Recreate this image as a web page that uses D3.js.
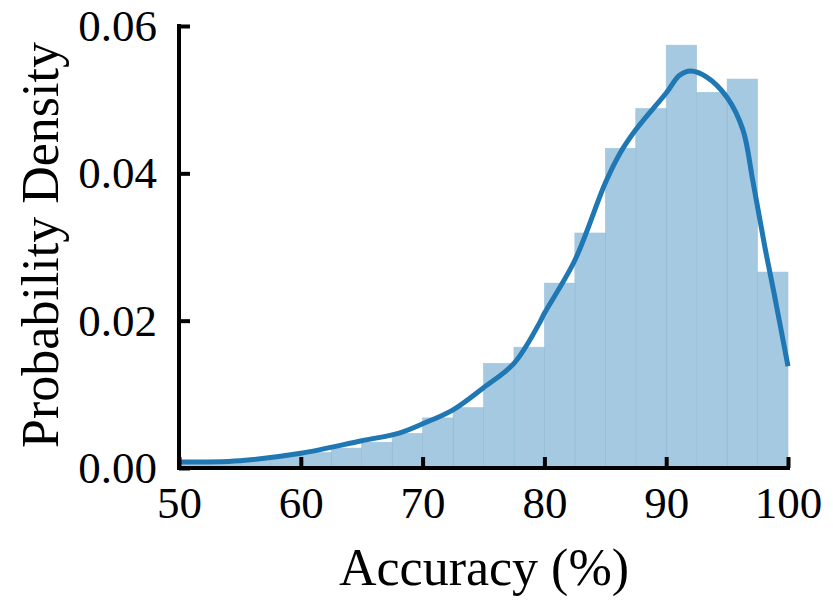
<!DOCTYPE html>
<html>
<head>
<meta charset="utf-8">
<script src="https://cdn.jsdelivr.net/npm/d3@7"></script>
<style>
  html, body { margin: 0; padding: 0; background: #fff; }
  svg { display: block; }
  text { font-family: "Liberation Serif", "DejaVu Serif", serif; fill: #000; }
</style>
</head>
<body>
<svg id="chart" width="833" height="606"></svg>
<script>
// Histogram bins (left edges, width 2.5) and densities
const binEdges = [50, 52.5, 55, 57.5, 60, 62.5, 65, 67.5, 70, 72.5, 75, 77.5, 80, 82.5, 85, 87.5, 90, 92.5, 95, 97.5];
const binDensity = [0.0007, 0.0009, 0.0012, 0.0016, 0.0021, 0.0027, 0.0035, 0.0047, 0.0068, 0.0082, 0.0142, 0.0164, 0.0251, 0.0319, 0.0434, 0.0488, 0.0574, 0.0510, 0.0528, 0.0266];
const binWidth = 2.5;

// KDE curve points
const kdeX = [50, 55, 60, 65, 68, 70, 72.5, 75, 77.5, 79.6, 80, 82.5, 85, 86.2, 87.5, 90, 91.1, 92, 93.3, 95, 96.3, 97.1, 98.1, 98.8, 100];
const kdeY = [0.0008, 0.0010, 0.0020, 0.0037, 0.0047, 0.0060, 0.0079, 0.0109, 0.0142, 0.0197, 0.0210, 0.0282, 0.0387, 0.0427, 0.0459, 0.0509, 0.0533, 0.0539, 0.0531, 0.0503, 0.0459, 0.0391, 0.0300, 0.0242, 0.0138];

const xTicks = [50, 60, 70, 80, 90, 100];
const yTicks = [0, 0.02, 0.04, 0.06];
const xLabel = "Accuracy (%)";
const yLabel = "Probability Density";

const svg = d3.select("#chart");
const x = d3.scaleLinear().domain([50, 100]).range([179, 788]);
const y = d3.scaleLinear().domain([0, 0.06]).range([468, 26]);

// Bars
svg.append("g").selectAll("rect")
  .data(binEdges.map((e, i) => ({ x0: e, x1: e + binWidth, v: binDensity[i] })))
  .join("rect")
  .attr("x", d => x(d.x0))
  .attr("width", d => x(d.x1) - x(d.x0))
  .attr("y", d => y(d.v))
  .attr("height", d => y(0) - y(d.v))
  .attr("fill", "#1f77b4")
  .attr("fill-opacity", 0.4)
  .attr("stroke", "#9fc3dc")
  .attr("stroke-width", 0.6);

// KDE line
const line = d3.line().x(d => x(d[0])).y(d => y(d[1])).curve(d3.curveCatmullRom.alpha(0.5));
svg.append("path")
  .datum(kdeX.map((v, i) => [v, kdeY[i]]))
  .attr("d", line)
  .attr("fill", "none")
  .attr("stroke", "#1f77b4")
  .attr("stroke-width", 5)
  .attr("stroke-linejoin", "round");

// Axes
const xAxis = d3.axisBottom(x).tickValues(xTicks).tickSizeInner(-11).tickSizeOuter(0).tickPadding(18).tickFormat(d3.format("d"));
const gx = svg.append("g").attr("transform", `translate(0,${y(0)})`).call(xAxis);
gx.select(".domain").attr("stroke", "#000").attr("stroke-width", 4).attr("d", `M${x(50) - 2},0H${x(100) + 2}`);
gx.selectAll(".tick line").attr("stroke", "#000").attr("stroke-width", 4).attr("y1", 0);
gx.selectAll(".tick text").attr("font-size", 45).attr("dy", "0.71em")
  .attr("font-family", "Liberation Serif");

const yAxis = d3.axisLeft(y).tickValues(yTicks).tickSizeInner(-11).tickSizeOuter(0).tickPadding(22).tickFormat(d3.format(".2f"));
const gy = svg.append("g").attr("transform", `translate(${x(50)},0)`).call(yAxis);
gy.select(".domain").attr("stroke", "#000").attr("stroke-width", 4).attr("d", `M0,${y(0.06) - 2}V${y(0) + 2}`);
gy.selectAll(".tick line").attr("stroke", "#000").attr("stroke-width", 4);
gy.selectAll(".tick text").attr("font-size", 45).attr("font-family", "Liberation Serif");

// Axis titles
svg.append("text").attr("x", 484).attr("y", 585).attr("text-anchor", "middle")
  .attr("font-size", 52).text(xLabel);
svg.append("text").attr("transform", "translate(58,245) rotate(-90)").attr("text-anchor", "middle")
  .attr("font-size", 52).text(yLabel);
</script>
</body>
</html>
